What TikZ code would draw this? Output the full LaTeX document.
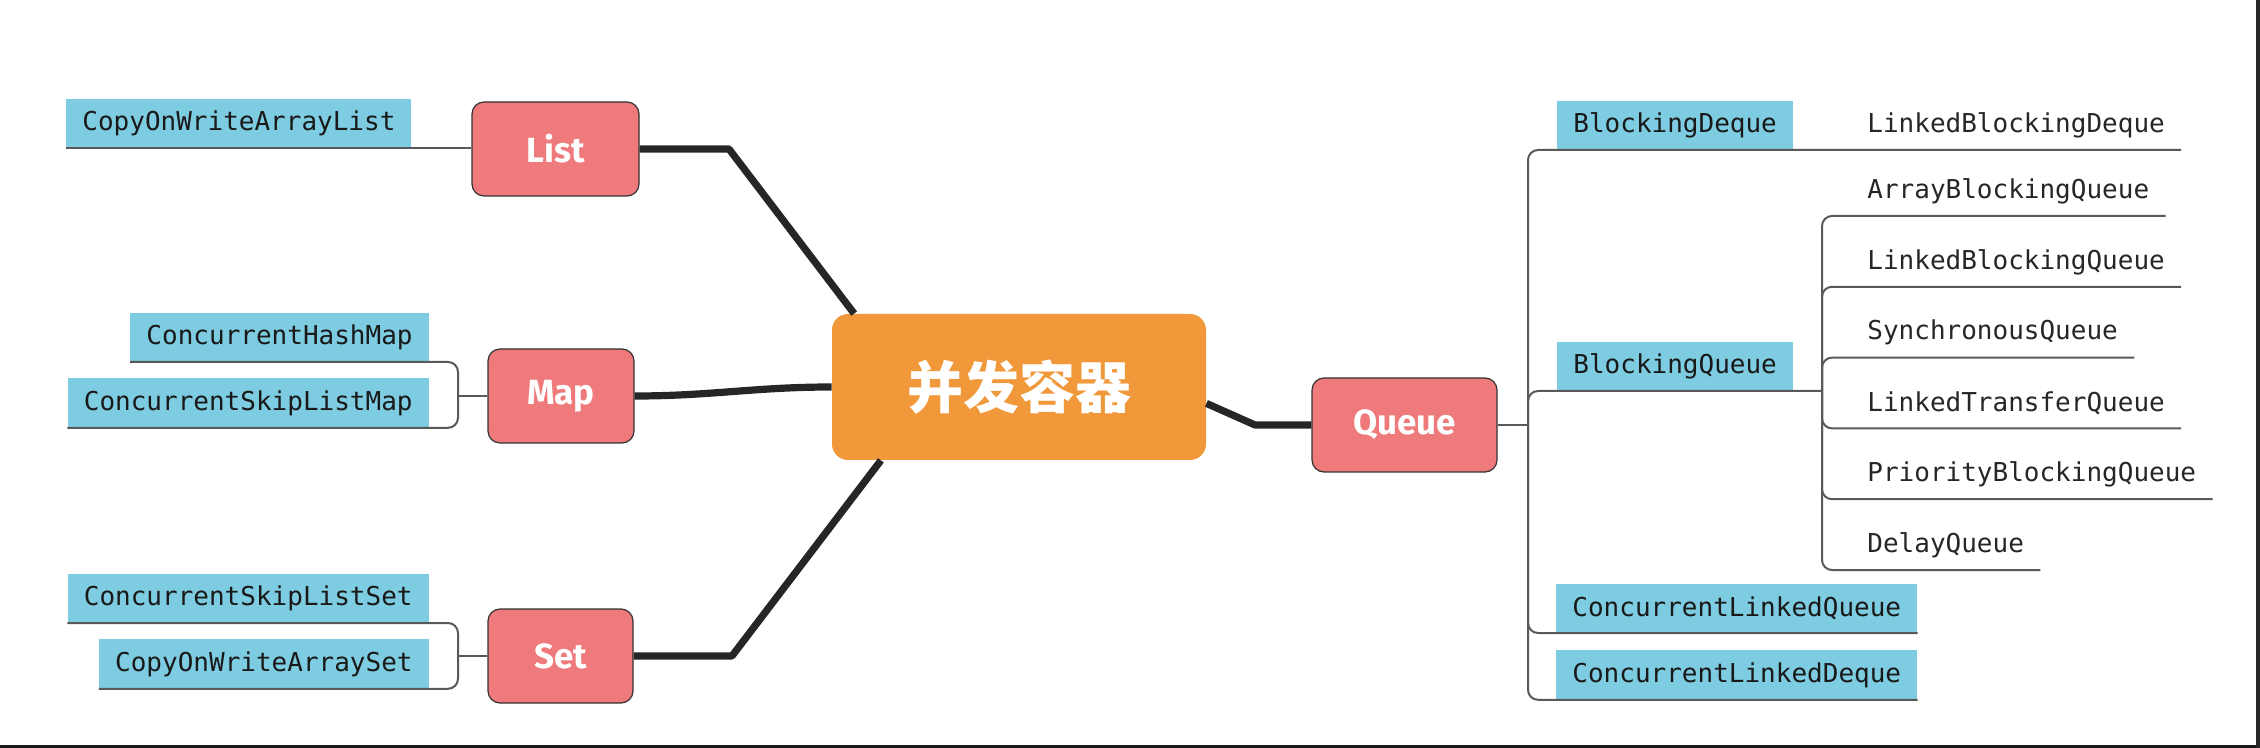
\documentclass[tikz,border=0pt]{standalone}
\usepackage{fontspec}
\usetikzlibrary{positioning}
\newfontfamily\monofont{DejaVu Sans Mono}
\newfontfamily\catfont{Fira Sans}
\newfontfamily\cjkfont{Noto Sans CJK SC}
\definecolor{catred}{RGB}{238,122,124}
\definecolor{huborange}{RGB}{241,152,58}
\definecolor{leafblue}{RGB}{126,204,225}
\begin{document}
\begin{tikzpicture}[x=0.5pt,y=-0.5pt,
  cat node/.style={rounded corners=6pt,fill=catred,draw=black!80,line width=0.6pt,text=white,
    font=\catfont\bfseries\fontsize{17.5pt}{20pt}\selectfont,minimum height=47pt,inner xsep=8pt},
  hub node/.style={rounded corners=8pt,fill=huborange,text=white,minimum width=187pt,minimum height=73pt,
    font=\cjkfont\bfseries\fontsize{28pt}{32pt}\selectfont},
  leaf node/.style={fill=leafblue,text=black!90,inner xsep=8pt,inner ysep=0pt,minimum height=24.5pt,
    font=\monofont\fontsize{13pt}{15pt}\selectfont},
  item node/.style={leaf node,fill=none,text=black!85},
  branch/.style={line width=3.6pt,draw=black!85,line join=round},
  twig/.style={line width=1pt,draw=black!65,rounded corners=5pt}]
  \useasboundingbox (0,0) rectangle (2260,748);
  \fill[black!90] (0,745) rectangle (2260,748);
  \fill[black!85] (2256,0) rectangle (2260,748);

  \node[hub node] (hub) at (1019,387) {并发容器};
  \node[cat node,minimum width=83.5pt] (List) at (555.5,149) {List};
  \node[cat node,minimum width=73pt] (Map) at (561,396) {Map};
  \node[cat node,minimum width=72.5pt] (Set) at (560.5,656) {Set};
  \node[cat node,minimum width=92.5pt] (Queue) at (1404.5,425) {Queue};

  \node[leaf node,anchor=south west] (cowal) at (66,148) {CopyOnWriteArrayList};
  \node[leaf node,anchor=south east] (chm) at (429,362) {ConcurrentHashMap};
  \node[leaf node,below left=8pt and 0pt of chm.south east] (cslm) {ConcurrentSkipListMap};
  \node[leaf node,anchor=south east] (csls) at (429,623) {ConcurrentSkipListSet};
  \node[leaf node,below left=8pt and 0pt of csls.south east] (cowas) {CopyOnWriteArraySet};

  \node[leaf node,anchor=south west] (bdq) at (1557,150) {BlockingDeque};
  \node[leaf node,anchor=south west] (bq) at (1557,391) {BlockingQueue};
  \node[leaf node,anchor=south west] (clq) at (1556,633) {ConcurrentLinkedQueue};
  \node[leaf node,below right=8.5pt and 0pt of clq.south west] (cld) {ConcurrentLinkedDeque};

  \node[item node,anchor=south west] (lbd) at (1851,150) {LinkedBlockingDeque};
  \node[item node,anchor=south west] (abq) at (1851,216) {ArrayBlockingQueue};
  \node[item node,below right=10.5pt and 0pt of abq.south west] (lbq) {LinkedBlockingQueue};
  \node[item node,below right=10.5pt and 0pt of lbq.south west] (sq) {SynchronousQueue};
  \node[item node,below right=10.5pt and 0pt of sq.south west] (ltq) {LinkedTransferQueue};
  \node[item node,below right=10.5pt and 0pt of ltq.south west] (pbq) {PriorityBlockingQueue};
  \node[item node,below right=10.5pt and 0pt of pbq.south west] (dq) {DelayQueue};

  \coordinate (listbend) at (729,149);
  \coordinate (setbend) at (732,656);
  \coordinate (queuebend) at (1255,425);
  \coordinate (mapjoint) at (458,396);
  \coordinate (setjoint) at (458,656);
  \coordinate (qjoint) at (1528,425);
  \coordinate (bqjoint) at (1822,391);

  \draw[branch] (List.east) -- (listbend) -- (hub.156);
  \draw[branch] (Map.east) to[out=0,in=180] (hub.west);
  \draw[branch] (Set.east) -- (setbend) -- (hub.208);
  \draw[branch] (hub.-5.5) -- (queuebend) -- (Queue.west);

  \draw[twig] (cowal.south west) -- (cowal.south east) -- (List.west |- cowal.south east);
  \draw[twig] (Map.west) -- (mapjoint);
  \draw[twig] (mapjoint) |- (chm.south east) -- (chm.south west);
  \draw[twig] (mapjoint) |- (cslm.south east) -- (cslm.south west);
  \draw[twig] (Set.west) -- (setjoint);
  \draw[twig] (setjoint) |- (csls.south east) -- (csls.south west);
  \draw[twig] (setjoint) |- (cowas.south east) -- (cowas.south west);

  \draw[twig] (Queue.east) -- (qjoint);
  \draw[twig] (qjoint) |- (bdq.south west) -- (bdq.south east) -- (lbd.south east);
  \draw[twig] (qjoint) |- (bq.south west) -- (bq.south east) -- (bqjoint);
  \draw[twig] (qjoint) |- (clq.south west) -- (clq.south east);
  \draw[twig] (qjoint) |- (cld.south west) -- (cld.south east);
  \draw[twig] (bqjoint) |- (abq.south east);
  \draw[twig] (bqjoint) |- (lbq.south east);
  \draw[twig] (bqjoint) |- (sq.south east);
  \draw[twig] (bqjoint) |- (ltq.south east);
  \draw[twig] (bqjoint) |- (pbq.south east);
  \draw[twig] (bqjoint) |- (dq.south east);
\end{tikzpicture}
\end{document}
